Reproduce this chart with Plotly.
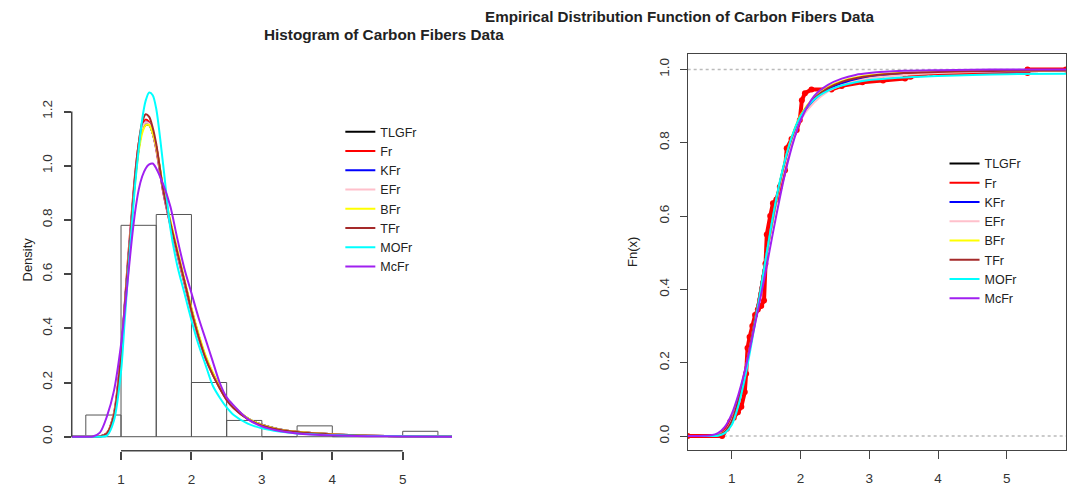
import plotly.graph_objects as go

# histogram of the carbon fibres data (density scale, bins of width 0.5)
bin_left = [0.5, 1.0, 1.5, 2.0, 2.5, 3.0, 3.5, 4.0, 4.5, 5.0]
bin_density = [0.08, 0.78, 0.82, 0.20, 0.06, 0.0, 0.04, 0.0, 0.0, 0.02]

models = ["TLGFr", "Fr", "KFr", "EFr", "BFr", "TFr", "MOFr", "McFr"]
model_colors = ["#000000", "#FF0000", "#0000FF", "#FFC0CB", "#FFFF00", "#A52A2A", "#00FFFF", "#A020F0"]

# fitted densities
xd = [0.3, 0.5, 0.6, 0.7, 0.8, 0.9, 1.0, 1.05, 1.1, 1.15, 1.2, 1.25, 1.3, 1.35, 1.4, 1.45, 1.5,
      1.6, 1.7, 1.8, 1.9, 2.0, 2.1, 2.2, 2.3, 2.4, 2.5, 2.6, 2.8, 3.0, 3.25, 3.5, 4.0, 4.5, 5.0, 5.7]
pdf_tlgfr = [0, 0, 0, 0.001, 0.012, 0.08, 0.30, 0.47, 0.64, 0.80, 0.95, 1.06, 1.13, 1.15, 1.15, 1.12, 1.07,
             0.91, 0.79, 0.68, 0.575, 0.47, 0.375, 0.295, 0.235, 0.185, 0.14, 0.11, 0.068, 0.044, 0.027, 0.018, 0.009, 0.004, 0.002, 0.001]
pdf_fr = [0, 0, 0, 0.001, 0.014, 0.088, 0.31, 0.48, 0.66, 0.82, 0.97, 1.08, 1.15, 1.17, 1.16, 1.12, 1.06,
          0.90, 0.78, 0.67, 0.565, 0.46, 0.365, 0.29, 0.23, 0.18, 0.137, 0.107, 0.066, 0.043, 0.027, 0.018, 0.009, 0.004, 0.002, 0.001]
pdf_kfr = [0, 0, 0, 0.001, 0.012, 0.082, 0.30, 0.475, 0.645, 0.805, 0.955, 1.065, 1.14, 1.16, 1.155, 1.12, 1.065,
           0.905, 0.785, 0.675, 0.57, 0.468, 0.372, 0.293, 0.233, 0.183, 0.139, 0.109, 0.067, 0.044, 0.027, 0.018, 0.009, 0.004, 0.002, 0.001]
pdf_efr = [0, 0, 0, 0.001, 0.013, 0.085, 0.305, 0.475, 0.65, 0.81, 0.96, 1.07, 1.14, 1.16, 1.155, 1.12, 1.065,
           0.905, 0.785, 0.675, 0.57, 0.465, 0.37, 0.292, 0.232, 0.182, 0.138, 0.108, 0.067, 0.043, 0.027, 0.018, 0.009, 0.004, 0.002, 0.001]
pdf_bfr = [0, 0, 0, 0.001, 0.011, 0.078, 0.295, 0.465, 0.635, 0.79, 0.94, 1.05, 1.12, 1.15, 1.15, 1.12, 1.07,
           0.92, 0.80, 0.69, 0.58, 0.475, 0.38, 0.30, 0.238, 0.186, 0.142, 0.11, 0.068, 0.043, 0.027, 0.018, 0.009, 0.004, 0.002, 0.001]
pdf_tfr = [0, 0, 0, 0.001, 0.012, 0.08, 0.30, 0.47, 0.64, 0.80, 0.96, 1.08, 1.16, 1.19, 1.18, 1.14, 1.08,
           0.91, 0.79, 0.68, 0.575, 0.465, 0.37, 0.29, 0.23, 0.18, 0.135, 0.105, 0.065, 0.042, 0.026, 0.017, 0.008, 0.004, 0.002, 0.001]
pdf_mofr = [0, 0, 0, 0, 0.004, 0.06, 0.24, 0.42, 0.60, 0.77, 0.93, 1.06, 1.17, 1.24, 1.27, 1.26, 1.21,
            1.00, 0.77, 0.63, 0.53, 0.43, 0.34, 0.265, 0.19, 0.145, 0.108, 0.08, 0.048, 0.031, 0.019, 0.012, 0.006, 0.003, 0.002, 0.001]
pdf_mcfr = [0, 0, 0.001, 0.015, 0.075, 0.17, 0.34, 0.46, 0.59, 0.72, 0.83, 0.91, 0.96, 0.99, 1.005, 1.008, 0.99,
            0.93, 0.85, 0.73, 0.62, 0.53, 0.44, 0.36, 0.28, 0.2, 0.145, 0.115, 0.065, 0.038, 0.021, 0.012, 0.005, 0.002, 0.001, 0]

# fitted cdfs
xc = [0.36, 0.6, 0.7, 0.8, 0.9, 1.0, 1.1, 1.2, 1.3, 1.4, 1.5, 1.6, 1.7, 1.8, 1.9, 2.0,
      2.2, 2.4, 2.6, 2.8, 3.0, 3.5, 4.0, 4.5, 5.0, 5.86]
cdf_tlgfr = [0, 0, 0, 0.002, 0.012, 0.04, 0.10, 0.18, 0.275, 0.38, 0.49, 0.595, 0.69, 0.765, 0.825, 0.87,
             0.918, 0.945, 0.962, 0.973, 0.98, 0.988, 0.992, 0.994, 0.995, 0.996]
cdf_fr = [0, 0, 0, 0.002, 0.014, 0.045, 0.105, 0.185, 0.28, 0.383, 0.49, 0.593, 0.686, 0.762, 0.822, 0.868,
          0.917, 0.944, 0.961, 0.972, 0.979, 0.987, 0.991, 0.993, 0.995, 0.996]
cdf_kfr = [0, 0, 0, 0.002, 0.012, 0.041, 0.10, 0.18, 0.276, 0.38, 0.49, 0.594, 0.689, 0.764, 0.824, 0.869,
           0.917, 0.945, 0.962, 0.973, 0.98, 0.988, 0.992, 0.994, 0.995, 0.996]
cdf_efr = [0, 0, 0, 0.002, 0.013, 0.043, 0.102, 0.182, 0.277, 0.38, 0.488, 0.59, 0.683, 0.758, 0.817, 0.862,
           0.91, 0.94, 0.957, 0.968, 0.976, 0.985, 0.99, 0.993, 0.995, 0.996]
cdf_bfr = [0, 0, 0, 0.002, 0.011, 0.038, 0.097, 0.177, 0.273, 0.378, 0.488, 0.595, 0.692, 0.77, 0.83, 0.875,
           0.924, 0.952, 0.968, 0.978, 0.984, 0.991, 0.994, 0.996, 0.997, 0.998]
cdf_tfr = [0, 0, 0, 0.002, 0.012, 0.04, 0.10, 0.181, 0.277, 0.382, 0.492, 0.597, 0.691, 0.767, 0.827, 0.872,
           0.921, 0.949, 0.966, 0.976, 0.982, 0.99, 0.993, 0.995, 0.996, 0.997]
cdf_mofr = [0, 0, 0, 0.001, 0.008, 0.03, 0.085, 0.165, 0.265, 0.375, 0.49, 0.60, 0.695, 0.77, 0.83, 0.872,
            0.918, 0.942, 0.956, 0.965, 0.971, 0.978, 0.982, 0.985, 0.987, 0.988]
cdf_mcfr = [0, 0.001, 0.002, 0.008, 0.025, 0.06, 0.115, 0.185, 0.27, 0.36, 0.455, 0.555, 0.65, 0.735, 0.805, 0.86,
            0.928, 0.958, 0.975, 0.985, 0.99, 0.996, 0.998, 0.999, 1.0, 1.0]

# empirical distribution function of the sample
ecdf_x = [0.36, 0.86, 0.88, 0.93, 0.98, 1.03, 1.09, 1.14, 1.19, 1.21, 1.23, 1.26, 1.3, 1.34, 1.38, 1.43, 1.47,
          1.49, 1.51, 1.56, 1.60, 1.65, 1.70, 1.775, 1.80, 1.87, 1.945, 1.99, 2.02, 2.065, 2.16, 2.45,
          2.6, 2.9, 3.2, 3.52, 3.6, 3.9, 5.3, 5.3, 5.86]
ecdf_y = [0, 0, 0.01, 0.02, 0.04, 0.05, 0.065, 0.08, 0.12, 0.17, 0.24, 0.27, 0.30, 0.33, 0.345, 0.355, 0.37,
          0.47, 0.55, 0.60, 0.635, 0.645, 0.68, 0.725, 0.785, 0.81, 0.835, 0.862, 0.916, 0.935, 0.945, 0.945,
          0.955, 0.965, 0.97, 0.975, 0.98, 0.99, 0.99, 1.0, 1.0]

pdfs = [pdf_tlgfr, pdf_fr, pdf_kfr, pdf_efr, pdf_bfr, pdf_tfr, pdf_mofr, pdf_mcfr]
cdfs = [cdf_tlgfr, cdf_fr, cdf_kfr, cdf_efr, cdf_bfr, cdf_tfr, cdf_mofr, cdf_mcfr]

AX = "#444444"
FONT = "Liberation Sans, Arial, sans-serif"

x1_range = [0.3, 5.7]
y1_range = [-0.052, 1.352]
x1_dom = [0.0666, 0.4197]
y1_dom = [0.080, 0.8565]


def xpaper(v):
    # figure fraction of a value on the histogram x axis (margins are zero)
    f = (v - x1_range[0]) / (x1_range[1] - x1_range[0])
    return x1_dom[0] + f * (x1_dom[1] - x1_dom[0])


def ypaper(v):
    f = (v - y1_range[0]) / (y1_range[1] - y1_range[0])
    return y1_dom[0] + f * (y1_dom[1] - y1_dom[0])


fig = go.Figure()

fig.add_trace(go.Bar(
    x=bin_left, y=bin_density, width=0.5, offset=0,
    marker=dict(color="rgba(255,255,255,0)", line=dict(color="#555555", width=1)),
    showlegend=False, hoverinfo="skip", xaxis="x", yaxis="y",
))
for name, col, d in zip(models, model_colors, pdfs):
    fig.add_trace(go.Scatter(
        x=xd, y=d, mode="lines", name=name,
        line=dict(color=col, width=2, shape="spline", smoothing=0.8),
        xaxis="x", yaxis="y", legend="legend",
    ))

fig.add_trace(go.Scatter(
    x=ecdf_x, y=ecdf_y, mode="lines+markers",
    line=dict(color="#FF0000", width=4), marker=dict(color="#FF0000", size=6),
    showlegend=False, xaxis="x2", yaxis="y2",
))
for name, col, c in zip(models, model_colors, cdfs):
    fig.add_trace(go.Scatter(
        x=xc, y=c, mode="lines", name=name,
        line=dict(color=col, width=2, shape="spline", smoothing=0.8),
        xaxis="x2", yaxis="y2", legend="legend2",
    ))

# R-style detached axis lines of the histogram (y from 0 to 1.2, x from 1 to 5),
# drawn on a hidden overlay that covers the whole figure
fig.add_trace(go.Scatter(
    x=[x1_dom[0], x1_dom[0], None, xpaper(1), xpaper(5)],
    y=[ypaper(0), ypaper(1.2), None, y1_dom[0], y1_dom[0]],
    mode="lines", line=dict(color=AX, width=1.5), connectgaps=False,
    showlegend=False, hoverinfo="skip", xaxis="x3", yaxis="y3",
))

tick_font = dict(family=FONT, size=13.5, color="#333333")
fig.update_layout(
    width=1077, height=490,
    margin=dict(l=0, r=0, t=0, b=0),
    paper_bgcolor="white", plot_bgcolor="rgba(0,0,0,0)",
    font=dict(family=FONT, color="#222222"),
    barmode="overlay",
    xaxis=dict(domain=x1_dom, range=x1_range, tickvals=[1, 2, 3, 4, 5],
               ticks="outside", ticklen=8, tickcolor=AX, tickwidth=1.5, showline=False, showgrid=False,
               zeroline=False, tickfont=tick_font, ticklabelstandoff=8),
    yaxis=dict(domain=y1_dom, range=y1_range, tickvals=[0, 0.2, 0.4, 0.6, 0.8, 1.0, 1.2],
               ticktext=["0.0", "0.2", "0.4", "0.6", "0.8", "1.0", "1.2"], tickangle=-90,
               ticks="outside", ticklen=7, tickcolor=AX, tickwidth=1.5, showline=False, showgrid=False,
               zeroline=False, tickfont=tick_font, ticklabelstandoff=6),
    xaxis2=dict(domain=[0.6385, 0.9898], range=[0.36, 5.86], tickvals=[1, 2, 3, 4, 5],
                ticks="outside", ticklen=8, tickcolor=AX, showline=True, linecolor=AX, linewidth=1,
                mirror=True, showgrid=False, zeroline=False, tickfont=tick_font, anchor="y2",
                ticklabelstandoff=8),
    yaxis2=dict(domain=[0.0816, 0.8898], range=[-0.038, 1.042], tickvals=[0, 0.2, 0.4, 0.6, 0.8, 1.0],
                ticktext=["0.0", "0.2", "0.4", "0.6", "0.8", "1.0"], tickangle=-90,
                ticks="outside", ticklen=7, tickcolor=AX, showline=True, linecolor=AX, linewidth=1,
                mirror=True, showgrid=False, zeroline=False, tickfont=tick_font, anchor="x2",
                ticklabelstandoff=5),
    xaxis3=dict(domain=[0, 1], range=[0, 1], visible=False, anchor="y3", fixedrange=True),
    yaxis3=dict(domain=[0, 1], range=[0, 1], visible=False, anchor="x3", fixedrange=True),
    legend=dict(x=0.316, y=0.761, xanchor="left", yanchor="top", bgcolor="rgba(0,0,0,0)",
                font=dict(family=FONT, size=12.5, color="#222222"), tracegroupgap=0),
    legend2=dict(x=0.877, y=0.696, xanchor="left", yanchor="top", bgcolor="rgba(0,0,0,0)",
                 font=dict(family=FONT, size=12.5, color="#222222"), tracegroupgap=0),
    shapes=[
        # reference lines at 0 and 1 for the ecdf
        dict(type="line", xref="x2 domain", yref="y2", x0=0, x1=1, y0=0, y1=0,
             line=dict(color="#BBBBBB", width=1.5, dash="dot"), layer="below"),
        dict(type="line", xref="x2 domain", yref="y2", x0=0, x1=1, y0=1, y1=1,
             line=dict(color="#BBBBBB", width=1.5, dash="dot"), layer="below"),
    ],
    annotations=[
        dict(text="<b>Histogram of Carbon Fibers Data</b>", x=0.243, y=1 - 35 / 490, xref="paper", yref="paper",
             yanchor="middle", showarrow=False, font=dict(family=FONT, size=15.3, color="#222222")),
        dict(text="<b>Empirical Distribution Function of Carbon Fibers Data</b>", x=0.814, y=1 - 17 / 490,
             xref="paper", yref="paper", yanchor="middle", showarrow=False,
             font=dict(family=FONT, size=15.2, color="#222222")),
        dict(text="Density", x=17 / 1077, y=1 - 260 / 490, xref="paper", yref="paper", textangle=-90,
             yanchor="middle", showarrow=False, font=dict(family=FONT, size=13, color="#222222")),
        dict(text="Fn(x)", x=633 / 1077, y=1 - 252 / 490, xref="paper", yref="paper", textangle=-90,
             yanchor="middle", showarrow=False, font=dict(family=FONT, size=13, color="#222222")),
    ],
)

# the page body has a default 8px margin; drop it so the figure sits at the window corner
fig.write_html("out.html", config={"displayModeBar": False},
               post_script="document.body.style.margin='0';")
